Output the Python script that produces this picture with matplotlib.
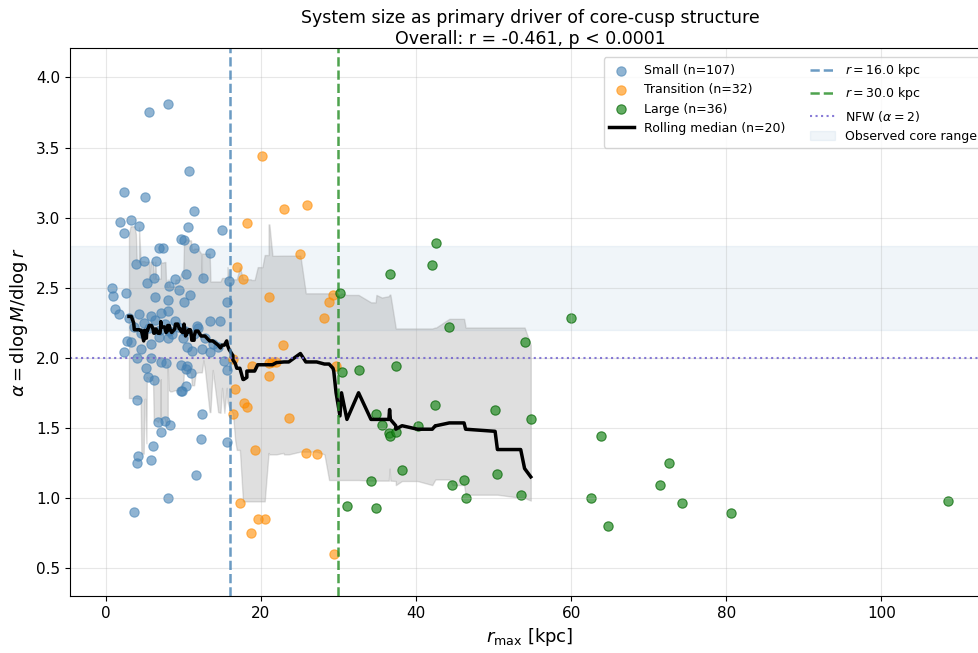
import numpy as np
import pandas as pd
import matplotlib
matplotlib.use("Agg")
import matplotlib.pyplot as plt

# small systems (r_max < 16 kpc)
small_r = [8.0, 5.6, 10.7, 2.4, 5.1, 11.4, 1.9, 3.2, 4.3, 10.6, 15.0,
           2.3, 9.7, 10.1, 6.9, 7.4, 11.4, 13.4, 3.9, 4.9, 6.5, 6.2, 8.9, 5.3,
           8.2, 10.3, 12.6, 0.8, 0.9, 2.6, 9.5, 10.9, 6.3, 8.0, 10.1, 15.9,
           15.7, 1.25, 1.7, 4.3, 5.8, 7.1, 8.0, 9.0, 13.5, 14.8,
           2.75, 3.3, 5.9, 6.9, 8.0, 10.0, 11.4, 10.5, 11.1, 12.4, 13.5, 2.4,
           4.6, 4.1, 5.8, 7.1, 7.8, 9.7, 10.5, 10.3, 11.0, 5.25, 5.4, 6.2,
           15.3, 15.6, 10.3, 9.7, 9.9, 4.0,
           12.4, 6.75, 7.7, 8.3, 7.1, 12.3, 15.7, 6.1, 4.2, 4.0, 5.8, 11.6,
           8.0, 3.7,
           3.0, 3.6, 4.5, 5.0, 5.6, 6.4, 7.0, 7.6, 8.5, 9.3, 10.2, 11.8, 12.8,
           13.8, 14.5, 8.1, 11.9]
small_a = [3.81, 3.75, 3.33, 3.18, 3.15, 3.05, 2.97, 2.98, 2.94, 2.93, 2.91,
           2.89, 2.85, 2.84, 2.78, 2.78, 2.78, 2.75, 2.67, 2.69, 2.69, 2.57,
           2.56, 2.53, 2.51, 2.60, 2.57, 2.50, 2.44, 2.46, 2.48, 2.45, 2.43,
           2.41, 2.40, 2.55, 2.40, 2.35, 2.31, 2.31, 2.30, 2.32, 2.33, 2.26,
           2.26, 2.26,
           2.12, 2.11, 2.10, 2.15, 2.14, 2.14, 2.17, 2.08, 2.05, 2.06, 2.04,
           2.04, 2.06, 2.00, 2.00, 1.97, 1.96, 1.95, 1.94, 1.92, 1.89, 1.93,
           1.86, 1.84, 1.98, 1.91, 1.80, 1.76, 1.76, 1.70,
           1.60, 1.54, 1.55, 1.52, 1.47, 1.42, 1.40, 1.37, 1.30, 1.25, 1.27,
           1.16, 1.00, 0.90,
           2.28, 2.22, 2.18, 2.25, 2.21, 2.27, 2.20, 2.24, 2.17, 2.22, 2.19,
           2.23, 2.14, 2.10, 2.08, 2.19, 2.21]

# transition systems (16-30 kpc)
trans_r = [20.2, 23.0, 26.0, 18.2, 25.1, 16.9, 17.7, 21.0, 29.3, 28.8, 28.2,
           22.9, 16.4, 18.8, 21.0, 21.5, 21.1, 29.7, 16.7, 17.8, 18.2, 16.4,
           23.6, 19.2, 25.8, 27.2, 17.3, 19.6, 20.5, 18.7, 29.4, 22.0]
trans_a = [3.44, 3.06, 3.09, 2.96, 2.74, 2.65, 2.56, 2.43, 2.45, 2.40, 2.28,
           2.09, 1.99, 1.94, 1.96, 1.97, 1.87, 1.94, 1.78, 1.68, 1.65, 1.60,
           1.57, 1.34, 1.32, 1.31, 0.96, 0.85, 0.85, 0.75, 0.60, 1.97]

# large systems (> 30 kpc)
large_r = [42.6, 42.1, 36.7, 30.2, 44.3, 54.0, 30.4, 32.6, 37.4, 42.5, 50.2,
           54.8, 34.9, 35.6, 36.5, 36.6, 37.4, 40.2, 38.2, 34.2, 44.7, 46.2,
           46.4, 50.5, 53.5, 31.1, 34.8,
           60.0, 63.9, 72.6, 71.4, 62.6, 74.3, 64.8, 80.6, 108.6]
large_a = [2.82, 2.66, 2.60, 2.46, 2.22, 2.11, 1.90, 1.91, 1.94, 1.66, 1.63,
           1.56, 1.60, 1.52, 1.46, 1.44, 1.47, 1.51, 1.20, 1.12, 1.09, 1.13,
           1.00, 1.17, 1.02, 0.94, 0.93,
           2.28, 1.44, 1.25, 1.09, 1.00, 0.96, 0.80, 0.89, 0.98]

r_small_cut = 16.0
r_large_cut = 30.0
core_lo, core_hi = 2.2, 2.8
window = 20

df = pd.DataFrame({
    "r": small_r + trans_r + large_r,
    "a": small_a + trans_a + large_a,
}).sort_values("r").reset_index(drop=True)
roll = df["a"].rolling(window, center=True)
med = roll.median()
lo = roll.quantile(0.16)
hi = roll.quantile(0.84)

fig = plt.figure(figsize=(9.79, 6.53), dpi=100)
ax = fig.add_axes([70 / 979, 57 / 653, 920 / 979, 548 / 653])

ax.axhspan(core_lo, core_hi, color="steelblue", alpha=0.08, label="Observed core range")
ax.fill_between(df["r"], lo, hi, color="gray", alpha=0.25)

ax.scatter(small_r, small_a, s=45, color="steelblue", alpha=0.6,
           edgecolors="steelblue", linewidths=0.8, label="Small (n=%d)" % len(small_r))
ax.scatter(trans_r, trans_a, s=45, color="darkorange", alpha=0.6,
           edgecolors="darkorange", linewidths=0.8, label="Transition (n=%d)" % len(trans_r))
ax.scatter(large_r, large_a, s=45, color="forestgreen", alpha=0.7,
           edgecolors="darkgreen", linewidths=0.8, label="Large (n=%d)" % len(large_r))

ax.plot(df["r"], med, color="black", lw=2.5, label="Rolling median (n=%d)" % window)

ax.axvline(r_small_cut, color="steelblue", ls="--", lw=1.8, alpha=0.8,
           label=r"$r = %.1f$ kpc" % r_small_cut)
ax.axvline(r_large_cut, color="forestgreen", ls="--", lw=1.8, alpha=0.8,
           label=r"$r = %.1f$ kpc" % r_large_cut)
ax.axhline(2.0, color="slateblue", ls=":", lw=1.5, alpha=0.8, label=r"NFW ($\alpha = 2$)")

ax.set_xlim(-4.6, 114.0)
ax.set_ylim(0.3, 4.21)
ax.set_xticks([0, 20, 40, 60, 80, 100])
ax.set_yticks(np.arange(0.5, 4.01, 0.5))
ax.tick_params(labelsize=11)
ax.grid(True, alpha=0.3)

ax.set_xlabel(r"$r_{\max}$ [kpc]", fontsize=13)
ax.set_ylabel(r"$\alpha = \mathrm{d}\log M/\mathrm{d}\log r$", fontsize=13)
ax.set_title("System size as primary driver of core-cusp structure\n"
             "Overall: r = -0.461, p < 0.0001", fontsize=12.5, pad=3)

h, l = ax.get_legend_handles_labels()
order = [l.index(x) for x in ["Small (n=107)", "Transition (n=32)", "Large (n=36)",
                              "Rolling median (n=20)", r"$r = 16.0$ kpc",
                              r"$r = 30.0$ kpc", r"NFW ($\alpha = 2$)", "Observed core range"]]
ax.legend([h[i] for i in order], [l[i] for i in order], ncol=2, fontsize=9,
          loc="upper left", bbox_to_anchor=((604 - 70) / 920, (596 - 57) / 548),
          borderaxespad=0)

fig.savefig("out.png", dpi=100)
